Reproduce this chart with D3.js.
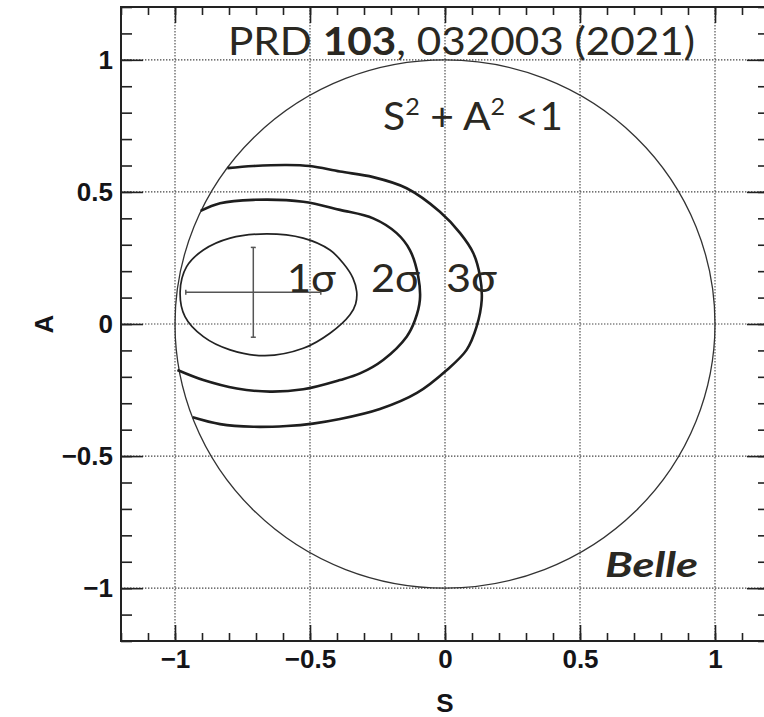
<!DOCTYPE html>
<html>
<head>
<meta charset="utf-8">
<script src="https://cdn.jsdelivr.net/npm/d3@7"></script>
<style>
  body { margin: 0; background: #fff; }
  svg { display: block; }
</style>
</head>
<body>
<svg id="chart" width="764" height="717"></svg>
<script>
// Axis ranges and labelled ticks
const sDomain = [-1.2, 1.2];
const aDomain = [-1.2, 1.2];
const sTicks = [-1, -0.5, 0, 0.5, 1];
const aTicks = [-1, -0.5, 0, 0.5, 1];
const sTickLabels = ["\u22121", "\u22120.5", "0", "0.5", "1"];
const aTickLabels = ["\u22121", "\u22120.5", "0", "0.5", "1"];

// Physical boundary S^2 + A^2 < 1
const boundaryRadius = 1;

// Best-fit point with its uncertainties
const fitS = -0.71, fitSErr = 0.25;
const fitA = 0.12, fitAErr = 0.17;

// Confidence-region contours as [S, A] pairs
const contour1 = [
  [-0.660, 0.341], [-0.525, 0.325], [-0.426, 0.280], [-0.377, 0.230],
  [-0.341, 0.174], [-0.327, 0.122], [-0.331, 0.076], [-0.352, 0.035],
  [-0.426, -0.035], [-0.525, -0.092],
  [-0.667, -0.120], [-0.796, -0.098], [-0.895, -0.048], [-0.963, 0.028],
  [-0.981, 0.122], [-0.957, 0.217], [-0.895, 0.280], [-0.796, 0.325]
];
const contour2 = [
  [-0.905, 0.428], [-0.833, 0.457], [-0.710, 0.470], [-0.525, 0.463],
  [-0.389, 0.432], [-0.266, 0.400], [-0.179, 0.344], [-0.130, 0.280],
  [-0.099, 0.179], [-0.093, 0.091], [-0.111, 0.015], [-0.142, -0.048],
  [-0.229, -0.136], [-0.315, -0.187], [-0.389, -0.212], [-0.525, -0.247],
  [-0.648, -0.256], [-0.771, -0.244], [-0.895, -0.212], [-0.991, -0.174]
];
const contour3 = [
  [-0.806, 0.590], [-0.710, 0.598], [-0.586, 0.602], [-0.500, 0.598],
  [-0.389, 0.577], [-0.266, 0.556], [-0.142, 0.514], [-0.019, 0.425],
  [0.056, 0.344], [0.105, 0.268], [0.130, 0.179], [0.136, 0.091],
  [0.117, -0.010], [0.080, -0.098], [0.007, -0.174], [-0.104, -0.261],
  [-0.241, -0.322], [-0.389, -0.360], [-0.489, -0.377], [-0.586, -0.386],
  [-0.710, -0.389], [-0.833, -0.379], [-0.934, -0.353]
];

const svg = d3.select("#chart");
const plotLeft = 121, plotRight = 769, plotTop = 7, plotBottom = 641;

const x = d3.scaleLinear().domain(sDomain).range([plotLeft, plotRight]);
const y = d3.scaleLinear().domain(aDomain).range([plotBottom, plotTop]);

const ink = "#222";
const textInk = "#2a2822";

// Dotted grid at the labelled ticks
const grid = svg.append("g").attr("stroke", "#444").attr("stroke-width", 1.1)
  .attr("stroke-dasharray", "1.4 1.6");
grid.selectAll("line.v").data(sTicks).join("line").attr("class", "v")
  .attr("x1", d => x(d)).attr("x2", d => x(d)).attr("y1", plotTop).attr("y2", plotBottom);
grid.selectAll("line.h").data(aTicks).join("line").attr("class", "h")
  .attr("y1", d => y(d)).attr("y2", d => y(d)).attr("x1", plotLeft).attr("x2", plotRight);

// Boundary circle
svg.append("ellipse")
  .attr("cx", x(0)).attr("cy", y(0))
  .attr("rx", x(boundaryRadius) - x(0)).attr("ry", y(0) - y(boundaryRadius))
  .attr("fill", "none").attr("stroke", "#333").attr("stroke-width", 1.3);

// Contours
const line = d3.line().x(d => x(d[0])).y(d => y(d[1])).curve(d3.curveCatmullRom.alpha(0.5));
const lineClosed = d3.line().x(d => x(d[0])).y(d => y(d[1])).curve(d3.curveCatmullRomClosed.alpha(0.5));
svg.append("path").attr("d", lineClosed(contour1))
  .attr("fill", "none").attr("stroke", "#222").attr("stroke-width", 1.7);
svg.append("path").attr("d", line(contour2))
  .attr("fill", "none").attr("stroke", "#1e1e1e").attr("stroke-width", 2.6);
svg.append("path").attr("d", line(contour3))
  .attr("fill", "none").attr("stroke", "#1e1e1e").attr("stroke-width", 2.6);

// Best-fit cross with small end caps
const eb = svg.append("g").attr("stroke", "#555").attr("stroke-width", 1.5);
eb.append("line").attr("x1", x(fitS - fitSErr)).attr("x2", x(fitS + fitSErr))
  .attr("y1", y(fitA)).attr("y2", y(fitA));
eb.append("line").attr("x1", x(fitS)).attr("x2", x(fitS))
  .attr("y1", y(fitA + fitAErr)).attr("y2", y(fitA - fitAErr));
[fitS - fitSErr, fitS + fitSErr].forEach(v => eb.append("line")
  .attr("x1", x(v)).attr("x2", x(v)).attr("y1", y(fitA) - 2.5).attr("y2", y(fitA) + 2.5));
[fitA - fitAErr, fitA + fitAErr].forEach(v => eb.append("line")
  .attr("y1", y(v)).attr("y2", y(v)).attr("x1", x(fitS) - 2.5).attr("x2", x(fitS) + 2.5));

// Axes: ticks drawn inward, minor every 0.1
const minorS = x.ticks(24);
const minorA = y.ticks(24);
const tickFont = "'Liberation Sans', Arial, Helvetica, sans-serif";

function styleAxis(g) {
  g.select(".domain").remove();
  g.selectAll(".tick line").attr("stroke", ink).attr("stroke-width", 1.6);
  g.selectAll(".tick text").attr("fill", "#141418")
    .attr("font-family", tickFont).attr("font-weight", "bold").attr("font-size", 26);
}

svg.append("g").attr("transform", `translate(0,${plotBottom})`)
  .call(d3.axisBottom(x).tickValues(minorS).tickSizeInner(-8).tickSizeOuter(0).tickFormat(""))
  .call(styleAxis);
svg.append("g").attr("transform", `translate(0,${plotBottom})`)
  .call(d3.axisBottom(x).tickValues(sTicks).tickSizeInner(-16).tickSizeOuter(0)
    .tickPadding(9).tickFormat((d, i) => sTickLabels[i]))
  .call(styleAxis);
svg.append("g").attr("transform", `translate(0,${plotTop})`)
  .call(d3.axisTop(x).tickValues(minorS).tickSizeInner(-8).tickSizeOuter(0).tickFormat(""))
  .call(styleAxis);
svg.append("g").attr("transform", `translate(0,${plotTop})`)
  .call(d3.axisTop(x).tickValues(sTicks).tickSizeInner(-16).tickSizeOuter(0).tickFormat(""))
  .call(styleAxis);

svg.append("g").attr("transform", `translate(${plotLeft},0)`)
  .call(d3.axisLeft(y).tickValues(minorA).tickSizeInner(-11).tickSizeOuter(0).tickFormat(""))
  .call(styleAxis);
svg.append("g").attr("transform", `translate(${plotLeft},0)`)
  .call(d3.axisLeft(y).tickValues(aTicks).tickSizeInner(-22).tickSizeOuter(0)
    .tickPadding(8).tickFormat((d, i) => aTickLabels[i]))
  .call(styleAxis);
svg.append("g").attr("transform", `translate(${plotRight},0)`)
  .call(d3.axisRight(y).tickValues(minorA).tickSizeInner(-11).tickSizeOuter(0).tickFormat(""))
  .call(styleAxis);
svg.append("g").attr("transform", `translate(${plotRight},0)`)
  .call(d3.axisRight(y).tickValues(aTicks).tickSizeInner(-22).tickSizeOuter(0).tickFormat(""))
  .call(styleAxis);

// Frame
svg.append("rect").attr("x", plotLeft).attr("y", plotTop)
  .attr("width", plotRight - plotLeft).attr("height", plotBottom - plotTop)
  .attr("fill", "none").attr("stroke", ink).attr("stroke-width", 2);

// Axis titles
svg.append("text").attr("x", x(0)).attr("y", 712).attr("text-anchor", "middle")
  .attr("font-family", tickFont).attr("font-weight", "bold").attr("font-size", 26)
  .attr("fill", "#141418").text("S");
svg.append("text").attr("transform", `translate(53,${y(0)}) rotate(-90)`)
  .attr("text-anchor", "middle")
  .attr("font-family", tickFont).attr("font-weight", "bold").attr("font-size", 26)
  .attr("fill", "#141418").text("A");

// Annotations
const noteFont = "Lato, 'Noto Sans', 'Open Sans', sans-serif";
function note(xp, yp, width, size) {
  return svg.append("text").attr("x", xp).attr("y", yp)
    .attr("font-family", noteFont).attr("font-size", size).attr("fill", textInk)
    .attr("textLength", width).attr("lengthAdjust", "spacingAndGlyphs");
}

const ref = note(228, 55, 467, 39);
ref.append("tspan").text("PRD ");
ref.append("tspan").attr("font-weight", "bold").text("103");
ref.append("tspan").text(", 032003 (2021)");

const bound = note(383, 130, 180, 39);
bound.append("tspan").text("S");
bound.append("tspan").attr("font-size", 24).attr("dy", -15).text("2");
bound.append("tspan").attr("dy", 15).text(" + A");
bound.append("tspan").attr("font-size", 24).attr("dy", -15).text("2");
bound.append("tspan").attr("dy", 15).text(" <1");

note(287, 292, 49, 39).text("1\u03c3");
note(371, 292, 49, 39).text("2\u03c3");
note(446, 292, 51, 39).text("3\u03c3");

note(605, 577, 93, 35).attr("font-weight", "bold").attr("font-style", "italic").text("Belle");
</script>
</body>
</html>
